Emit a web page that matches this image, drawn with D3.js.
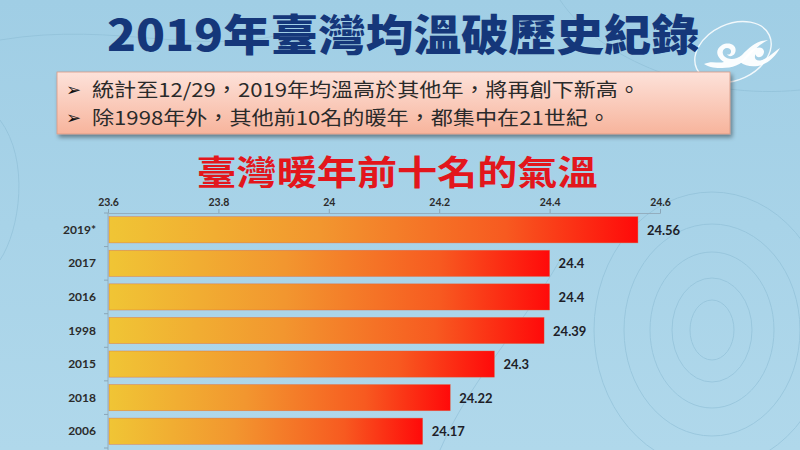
<!DOCTYPE html>
<html><head><meta charset="utf-8">
<script src="https://cdn.jsdelivr.net/npm/d3@7"></script>
<style>html,body{margin:0;padding:0;background:#a9d3e9;overflow:hidden}</style>
</head><body><svg id="c" width="800" height="450"></svg>
<script>
const title = "2019年臺灣均溫破歷史紀錄";
const bullets = ["統計至12/29，2019年均溫高於其他年，將再創下新高。", "除1998年外，其他前10名的暖年，都集中在21世紀。"];
const chartTitle = "臺灣暖年前十名的氣溫";
const years = ["2019*", "2017", "2016", "1998", "2015", "2018", "2006"];
const temps = [24.56, 24.4, 24.4, 24.39, 24.3, 24.22, 24.17];
const tickValues = [23.6, 23.8, 24, 24.2, 24.4, 24.6];

const svg = d3.select("#c");
const defs = svg.append("defs");

// background
const bg = defs.append("linearGradient").attr("id","bg").attr("x1",0).attr("y1",0).attr("x2",0).attr("y2",1);
bg.append("stop").attr("offset","0%").attr("stop-color","#a0cee5");
bg.append("stop").attr("offset","100%").attr("stop-color","#b0d8eb");
svg.append("rect").attr("width",800).attr("height",450).attr("fill","url(#bg)");

// faint contour decorations
const deco = svg.append("g").attr("fill","none").attr("stroke","#8dbdd5").attr("stroke-width",1).attr("opacity",0.6);
[[22,30],[40,52],[62,78],[88,106],[118,138]].forEach(([rx,ry])=>{
  deco.append("ellipse").attr("cx",712).attr("cy",330).attr("rx",rx).attr("ry",ry);
});
deco.append("path").attr("d","M0,40 C120,20 200,60 300,30");
deco.append("path").attr("d","M560,0 C600,60 700,100 800,90");
deco.append("path").attr("d","M0,120 C30,160 20,230 0,260");
deco.append("path").attr("d","M440,450 C470,380 520,330 560,260");

// logo at top right
const logo = svg.append("g");
logo.append("ellipse").attr("cx",733).attr("cy",52).attr("rx",40).attr("ry",28)
  .attr("transform","rotate(-25,733,52)").attr("fill","none").attr("stroke","#ffffff").attr("stroke-width",1.4).attr("opacity",0.85);
logo.append("path").attr("fill","#ffffff").attr("opacity",0.95)
  .attr("d","M704,64 C712,60 718,64 724,62 C717,58 714,50 722,45 C730,41 738,46 735,53 C733,57 728,57 727,54 C729,56 733,52 730,49 C726,46 720,50 724,56 C728,60 736,60 742,55 C750,47 756,41 768,40 C760,44 754,50 748,57 C741,65 732,68 722,68 C716,68 710,68 704,64 Z");
logo.append("path").attr("fill","#ffffff").attr("opacity",0.95)
  .attr("d","M740,62 C746,58 748,50 756,48 C762,46 766,50 763,55 C760,59 755,57 756,54 C753,58 756,62 762,60 C768,58 774,52 780,48 C776,56 768,64 758,66 C751,67 745,66 740,62 Z");

// main title
svg.append("text").attr("x",403).attr("y",51).attr("text-anchor","middle")
  .attr("font-family","'Noto Sans CJK TC','Noto Sans CJK SC',serif").attr("font-weight",900)
  .attr("font-size",43).attr("fill","#15377a").attr("textLength",592).attr("lengthAdjust","spacingAndGlyphs")
  .text(title);

// callout box
const boxG = defs.append("linearGradient").attr("id","box").attr("x1",0).attr("y1",0).attr("x2",0).attr("y2",1);
boxG.append("stop").attr("offset","0%").attr("stop-color","#fde2da");
boxG.append("stop").attr("offset","100%").attr("stop-color","#f7b49c");
const sh = defs.append("filter").attr("id","sh").attr("x","-5%").attr("y","-20%").attr("width","115%").attr("height","150%");
sh.append("feDropShadow").attr("dx",2).attr("dy",3).attr("stdDeviation",2).attr("flood-color","#000").attr("flood-opacity",0.4);
svg.append("rect").attr("x",57).attr("y",72).attr("width",673).attr("height",62)
  .attr("fill","url(#box)").attr("stroke","#d89a86").attr("stroke-width",0.8).attr("filter","url(#sh)");
const bulletWidths = [548, 518];
bullets.forEach((b,i)=>{
  const y = 97 + i*28;
  svg.append("text").attr("x",66).attr("y",y-1).attr("font-family","'DejaVu Sans',sans-serif")
    .attr("font-size",18).attr("fill","#111").text("➢");
  svg.append("text").attr("x",92).attr("y",y).attr("font-family","'Noto Sans CJK TC','Noto Sans CJK SC',sans-serif")
    .attr("font-size",19).attr("fill","#2a2a2a")
    .attr("textLength",bulletWidths[i]).attr("lengthAdjust","spacingAndGlyphs").text(b);
});

// chart title
svg.append("text").attr("x",397).attr("y",185).attr("text-anchor","middle")
  .attr("font-family","'Noto Sans CJK TC','Noto Sans CJK SC',sans-serif").attr("font-weight",700)
  .attr("font-size",34).attr("fill","#e3161c").attr("textLength",401).attr("lengthAdjust","spacingAndGlyphs")
  .text(chartTitle);

// scales
const x = d3.scaleLinear().domain([23.6, 24.6]).range([108, 660]);
const y = d3.scaleBand().domain(years).range([213, 448]).paddingInner(0.22).paddingOuter(0.11);

// bar gradient
const bar = defs.append("linearGradient").attr("id","bar").attr("x1",0).attr("y1",0).attr("x2",1).attr("y2",0);
bar.append("stop").attr("offset","0%").attr("stop-color","#f0c535");
bar.append("stop").attr("offset","40%").attr("stop-color","#f2962f");
bar.append("stop").attr("offset","75%").attr("stop-color","#f75a20");
bar.append("stop").attr("offset","100%").attr("stop-color","#ff0a0a");

// axes
const axT = svg.append("g").attr("transform","translate(0,213)")
  .call(d3.axisTop(x).tickValues(tickValues).tickSize(4).tickFormat(d3.format("")));
axT.select(".domain").attr("stroke","#93aebf");
axT.selectAll(".tick line").attr("stroke","#8aa6b8");
axT.selectAll(".tick text").attr("y",-7).attr("font-family","Lato,'Open Sans',sans-serif")
  .attr("font-weight",700).attr("font-size",10.5).attr("fill","#2b2b2b");

const ticksY = d3.range(years.length+1).map(i => y.range()[0] + i*y.step());
const axL = svg.append("g");
axL.append("line").attr("x1",108).attr("x2",108).attr("y1",213).attr("y2",450).attr("stroke","#93aebf");
axL.selectAll("line.t").data(ticksY).join("line").attr("class","t")
  .attr("x1",104).attr("x2",108).attr("y1",d=>d).attr("y2",d=>d).attr("stroke","#8aa6b8");
axL.selectAll("text").data(years).join("text")
  .attr("x",96).attr("y",d=>y(d)+y.bandwidth()/2+4).attr("text-anchor","end")
  .attr("font-family","Lato,'Open Sans',sans-serif").attr("font-weight",700).attr("font-size",12).attr("fill","#2b2b2b")
  .text(d=>d);

// bars
svg.append("g").selectAll("rect").data(temps).join("rect")
  .attr("x",x(23.6)+1).attr("y",(d,i)=>y(years[i]))
  .attr("width",d=>x(d)-x(23.6)-1).attr("height",y.bandwidth())
  .attr("fill","url(#bar)").attr("stroke","#e0603a").attr("stroke-width",0.6).attr("stroke-opacity",0.6);

// value labels
svg.append("g").selectAll("text").data(temps).join("text")
  .attr("x",d=>x(d)+9).attr("y",(d,i)=>y(years[i])+y.bandwidth()/2+5)
  .attr("font-family","Lato,'Open Sans',sans-serif").attr("font-weight",700).attr("font-size",13).attr("fill","#1e1e28")
  .text(d=>d);
</script></body></html>
